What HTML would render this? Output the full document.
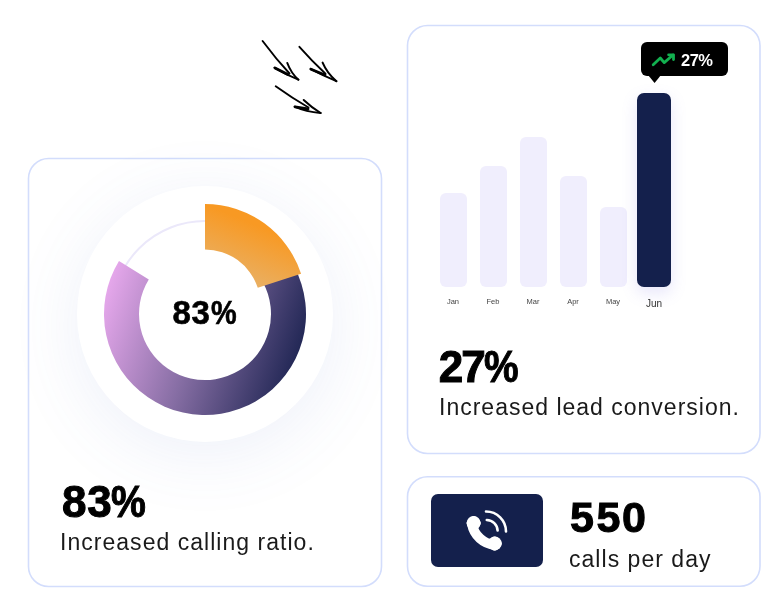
<!DOCTYPE html>
<html><head><meta charset="utf-8">
<style>
*{margin:0;padding:0;box-sizing:border-box}
html,body{width:782px;height:598px;background:#fff;overflow:hidden;position:relative;font-family:"Liberation Sans",sans-serif;color:#000}
.card{position:absolute;border:1.5px solid #dbe3fb;border-radius:19px;background:#fff}
.abs{will-change:transform;position:absolute;white-space:nowrap;line-height:1}
.big{font-weight:700;font-size:44px;-webkit-text-stroke:1px #000}
.sub{font-size:23px;letter-spacing:1.03px;color:#1a1a1a}
.bar{position:absolute;background:#f0eefd;border-radius:6px;width:26.5px}
.g{position:absolute;top:0;transform-origin:0 0}
.lbl{will-change:transform;position:absolute;font-size:7.5px;color:#444;line-height:1;text-align:center;width:40px}
</style></head><body>

<!-- cards -->
<svg style="position:absolute;left:0;top:0" width="782" height="598" viewBox="0 0 782 598">
  <g fill="none" stroke="#d3ddfc" stroke-width="1.6">
    <rect x="28.5" y="158.5" width="353" height="428" rx="20"/>
    <rect x="407.5" y="25.5" width="352.5" height="428" rx="20"/>
    <rect x="407.5" y="476.8" width="352.5" height="109.4" rx="20"/>
  </g>
</svg>
<div style="position:absolute;left:77px;top:186px;width:256px;height:256px;border-radius:50%;background:#fff;box-shadow:0 12px 70px rgba(80,110,200,0.10)"></div>

<svg style="position:absolute;left:0;top:0" width="782" height="598" viewBox="0 0 782 598">
  <defs>
    <linearGradient id="pg" x1="109.5" y1="281.1" x2="300.5" y2="346.9" gradientUnits="userSpaceOnUse">
      <stop offset="0" stop-color="#e5a7eb"/>
      <stop offset="0.5" stop-color="#856da3"/>
      <stop offset="1" stop-color="#232856"/>
    </linearGradient>
    <linearGradient id="og" x1="205" y1="204" x2="182.8" y2="257.6" gradientUnits="userSpaceOnUse">
      <stop offset="0" stop-color="#f89923"/>
      <stop offset="1" stop-color="#e9b064"/>
    </linearGradient>
  </defs>
  <circle cx="205" cy="314" r="93" fill="none" stroke="#ebe8fa" stroke-width="2"/>
  <path d="M269.92,236.63 A101,101 0 1 1 118.98,261.08 L148.79,279.42 A66,66 0 1 0 247.42,263.44 Z" fill="url(#pg)"/>
  <path d="M205,204 A101,101 0 0 1 301.06,273.79 L257.78,287.85 A55.5,55.5 0 0 0 205,249.5 Z" fill="url(#og)"/>
  <!-- arrows -->
  <g fill="none" stroke="#000" stroke-linecap="round" stroke-linejoin="round">
    <path d="M262.6,41 Q276,59 289.5,73.5" stroke-width="1.9"/>
    <path d="M287.3,63 Q291,73 298.4,79.7" stroke-width="2"/>
    <path d="M274.7,67.8 Q287,75 298.4,79.7" stroke-width="2"/>
    <path d="M275,68 L288,74.5" stroke-width="2.8"/>
    <path d="M299.4,46.8 Q312,61 325.5,73.8" stroke-width="1.9"/>
    <path d="M322.6,62.6 Q327,73 336.4,81.2" stroke-width="2"/>
    <path d="M310.5,68.9 Q324,76 336.4,81.2" stroke-width="2"/>
    <path d="M311,69.2 L325,75" stroke-width="2.8"/>
    <path d="M275.7,86.3 Q292,98 308.5,107.5" stroke-width="1.9"/>
    <path d="M303.7,100 Q311,107 320.6,113" stroke-width="2"/>
    <path d="M294.7,106.7 Q306,112 320.6,113" stroke-width="2"/>
    <path d="M295,106.8 L308,109" stroke-width="2.8"/>
  </g>
</svg>
<div class="abs" style="left:0;top:295.7px;font-weight:700;font-size:33px;-webkit-text-stroke:0.6px #000"><span class="g" style="left:172.55px">8</span><span class="g" style="left:191.55px">3</span><span class="g" style="left:211.2px;transform:scaleX(0.875)">%</span></div>
<div class="abs big" style="left:0;top:480.1px"><span class="g" style="left:61.9px">8</span><span class="g" style="left:87.3px">3</span><span class="g" style="left:111.2px;transform:scaleX(0.89)">%</span></div>
<div class="abs sub" style="left:60.3px;top:531.3px">Increased calling ratio.</div>

<!-- Right top card -->
<div class="bar" style="left:440px;top:192.5px;height:94.2px"></div>
<div class="bar" style="left:480px;top:166px;height:120.7px"></div>
<div class="bar" style="left:520px;top:137.3px;height:149.4px"></div>
<div class="bar" style="left:560px;top:175.5px;height:111.2px"></div>
<div class="bar" style="left:600px;top:207px;height:79.7px"></div>
<div style="position:absolute;left:636.5px;top:93px;width:34.5px;height:193.7px;background:#14204c;border-radius:7px;box-shadow:0 6px 16px rgba(120,110,230,0.18)"></div>
<div class="lbl" style="left:433px;top:298px">Jan</div>
<div class="lbl" style="left:473px;top:298px">Feb</div>
<div class="lbl" style="left:513px;top:298px">Mar</div>
<div class="lbl" style="left:553px;top:298px">Apr</div>
<div class="lbl" style="left:593px;top:298px">May</div>
<div class="lbl" style="left:634px;top:299px;font-size:10px;color:#333">Jun</div>

<!-- tooltip -->
<div style="position:absolute;left:641px;top:42px;width:87px;height:34px;background:#000;border-radius:6px"></div>
<svg style="position:absolute;left:0;top:0" width="782" height="598" viewBox="0 0 782 598">
  <path d="M648,75 L661,75 L654.6,83 Z" fill="#000"/>
  <g fill="none" stroke="#12b04f" stroke-width="2.8" stroke-linecap="round" stroke-linejoin="round">
    <path d="M653.2,64.7 L660.3,58 L664.2,62.6 L673,55"/>
    <path d="M668.6,54.8 L673.5,54.8 L673.5,59.6"/>
  </g>
</svg>
<div class="abs" style="left:681.2px;top:51.9px;font-size:16.5px;letter-spacing:-0.5px;font-weight:700;color:#fff">27%</div>

<div class="abs big" style="left:0;top:344.8px"><span class="g" style="left:438.8px">2</span><span class="g" style="left:461.15px">7</span><span class="g" style="left:484px;transform:scaleX(0.884)">%</span></div>
<div class="abs sub" style="left:439.3px;top:396.2px;letter-spacing:1px">Increased lead conversion.</div>

<!-- Right bottom card -->
<div style="position:absolute;left:431px;top:493.5px;width:111.5px;height:73px;background:#14204c;border-radius:7px"></div>
<svg style="position:absolute;left:460px;top:505px" width="55" height="50" viewBox="0 0 55 50">
  <g fill="#fff">
    <circle cx="13.6" cy="18" r="6.9"/>
    <rect x="7.6" y="12.1" width="12.2" height="12.2" rx="4" transform="rotate(45 13.7 18.2)"/>
    <circle cx="34.8" cy="38.4" r="6.9"/>
    <rect x="28.5" y="32.5" width="12.2" height="12.2" rx="4" transform="rotate(45 34.6 38.6)"/>
  </g>
  <path d="M12,19 A25.5,25.5 0 0 0 35,40" fill="none" stroke="#fff" stroke-width="10" stroke-linecap="round"/>
  <g fill="none" stroke="#fff" stroke-width="2.6" stroke-linecap="round">
    <path d="M26,6.5 A20,20 0 0 1 46,26.5"/>
    <path d="M26.8,15 A11,11 0 0 1 37.6,25.5"/>
  </g>
</svg>
<div class="abs big" style="left:0;top:496.1px;font-size:43px"><span class="g" style="left:570.1px">5</span><span class="g" style="left:596.4px">5</span><span class="g" style="left:622.1px">0</span></div>
<div class="abs sub" style="left:569px;top:548px">calls per day</div>

</body></html>
